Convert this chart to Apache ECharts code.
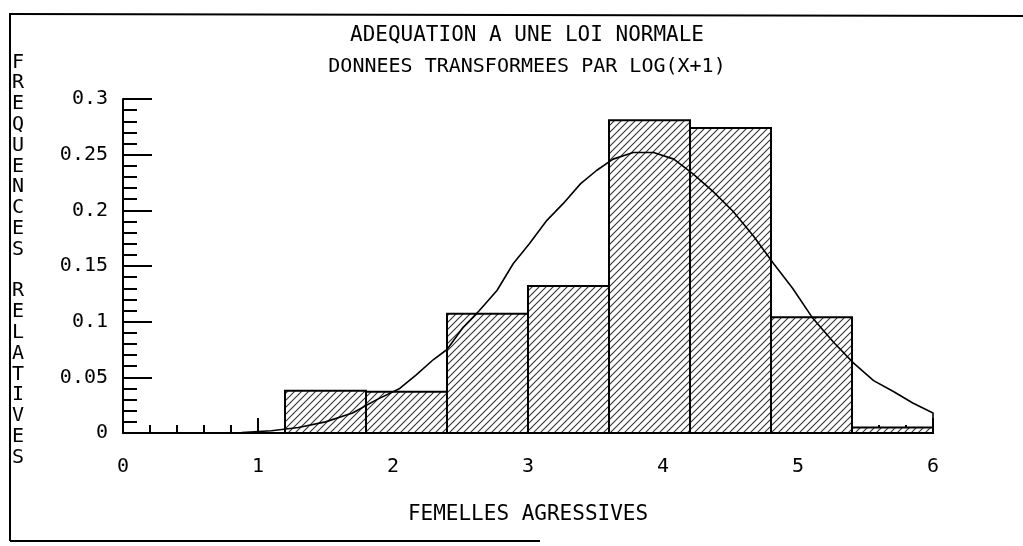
<!DOCTYPE html>
<html>
<head>
<meta charset="utf-8">
<script src="https://cdn.jsdelivr.net/npm/echarts@6/dist/echarts.min.js"></script>
<style>
  html, body { margin: 0; padding: 0; background: #fff; }
  #chart { width: 1023px; height: 546px; }
</style>
</head>
<body>
<div id="chart"></div>
<script>
// classes de l'histogramme (bornes) et frequences relatives
var binStart = [1.2, 1.8, 2.4, 3.0, 3.6, 4.2, 4.8, 5.4];
var binEnd   = [1.8, 2.4, 3.0, 3.6, 4.2, 4.8, 5.4, 6.0];
var freq     = [0.038, 0.037, 0.107, 0.132, 0.281, 0.274, 0.104, 0.005];

// courbe normale ajustee
var curveX = [0.88, 1.1, 1.3, 1.5, 1.7, 1.88, 2.05, 2.17, 2.3, 2.4, 2.52, 2.64, 2.77, 2.89, 3.01, 3.14, 3.26, 3.39, 3.51, 3.63, 3.78, 3.93, 4.08, 4.22, 4.37, 4.52, 4.67, 4.82, 4.96, 5.11, 5.26, 5.41, 5.56, 5.71, 5.85, 6.0, 6.0];
var curveY = [0.0005, 0.002, 0.005, 0.010, 0.018, 0.030, 0.040, 0.052, 0.066, 0.075, 0.095, 0.110, 0.128, 0.152, 0.170, 0.191, 0.206, 0.224, 0.236, 0.246, 0.252, 0.252, 0.246, 0.233, 0.217, 0.199, 0.177, 0.152, 0.130, 0.103, 0.082, 0.063, 0.047, 0.037, 0.027, 0.018, 0.005];

var titleLine1 = 'ADEQUATION A UNE LOI NORMALE';
var titleLine2 = 'DONNEES TRANSFORMEES PAR LOG(X+1)';
var xName = 'FEMELLES AGRESSIVES';
var yName = 'FREQUENCES RELATIVES';

var font = 'DejaVu Sans Mono';

// motif hachure ///
function makeHatch(){
  var c = document.createElement('canvas');
  c.width = 7; c.height = 7;
  var ctx = c.getContext('2d');
  ctx.fillStyle = '#fff';
  ctx.fillRect(0, 0, 7, 7);
  ctx.strokeStyle = '#333';
  ctx.lineWidth = 1.1;
  ctx.beginPath();
  ctx.moveTo(-1, 8); ctx.lineTo(8, -1);
  ctx.moveTo(-4, 4); ctx.lineTo(4, -4);
  ctx.moveTo(3, 11); ctx.lineTo(11, 3);
  ctx.stroke();
  return c;
}
var hatch = makeHatch();

var barData = [];
for (var i = 0; i < freq.length; i++) {
  barData.push([binStart[i], binEnd[i], freq[i]]);
}
var curveData = [];
for (var j = 0; j < curveX.length; j++) {
  curveData.push([curveX[j], curveY[j]]);
}

var myChart = echarts.init(document.getElementById('chart'));

var option = {
  backgroundColor: '#fff',
  animation: false,
  grid: { left: 123, right: 90, top: 99, bottom: 113 },
  xAxis: {
    type: 'value',
    min: 0, max: 6, interval: 1,
    name: xName,
    nameLocation: 'middle',
    nameGap: 71,
    nameTextStyle: { fontFamily: font, fontSize: 21, color: '#000' },
    axisLine: { show: true, onZero: false, lineStyle: { color: '#000', width: 2 } },
    axisTick: { show: true, inside: true, length: 15, lineStyle: { color: '#000', width: 2 } },
    minorTick: { show: true, splitNumber: 5, length: 8, lineStyle: { color: '#000', width: 2 } },
    axisLabel: { fontFamily: font, fontSize: 20, color: '#000', margin: 24 },
    splitLine: { show: false }
  },
  yAxis: {
    type: 'value',
    min: 0, max: 0.3, interval: 0.05,
    axisLine: { show: true, onZero: false, lineStyle: { color: '#000', width: 2 } },
    axisTick: { show: true, inside: true, length: 29, lineStyle: { color: '#000', width: 2 } },
    minorTick: { show: true, splitNumber: 5, length: 14, lineStyle: { color: '#000', width: 2 } },
    axisLabel: { fontFamily: font, fontSize: 20, color: '#000', margin: 15 },
    splitLine: { show: false }
  },
  graphic: [
    { type: 'line', shape: { x1: 10, y1: 13, x2: 10, y2: 541 }, style: { stroke: '#000', lineWidth: 2 } },
    { type: 'line', shape: { x1: 10, y1: 14, x2: 1023, y2: 16 }, style: { stroke: '#000', lineWidth: 2 } },
    { type: 'line', shape: { x1: 10, y1: 541, x2: 540, y2: 541 }, style: { stroke: '#000', lineWidth: 2 } },
    {
      type: 'text', x: 527, y: 36,
      style: { text: titleLine1, font: '21px "DejaVu Sans Mono"', fill: '#000', align: 'center', verticalAlign: 'middle' }
    },
    {
      type: 'text', x: 527, y: 67,
      style: { text: titleLine2, font: '20px "DejaVu Sans Mono"', fill: '#000', align: 'center', verticalAlign: 'middle' }
    },
    {
      type: 'text', x: 18, y: 52,
      style: {
        text: yName.split('').join('\n'),
        font: '20px "DejaVu Sans Mono"',
        fill: '#000',
        lineHeight: 20.8,
        align: 'center'
      }
    }
  ],
  series: [
    {
      type: 'custom',
      z: 2,
      data: barData,
      encode: { x: [0, 1], y: 2 },
      renderItem: function (params, api) {
        var p0 = api.coord([api.value(0), api.value(2)]);
        var p1 = api.coord([api.value(1), 0]);
        return {
          type: 'rect',
          shape: { x: p0[0], y: p0[1], width: p1[0] - p0[0], height: p1[1] - p0[1] },
          style: {
            fill: { image: hatch, repeat: 'repeat' },
            stroke: '#000',
            lineWidth: 2
          }
        };
      }
    },
    {
      type: 'line',
      z: 3,
      data: curveData,
      showSymbol: false,
      smooth: false,
      lineStyle: { color: '#000', width: 1.6 }
    }
  ]
};

myChart.setOption(option);
</script>
</body>
</html>
